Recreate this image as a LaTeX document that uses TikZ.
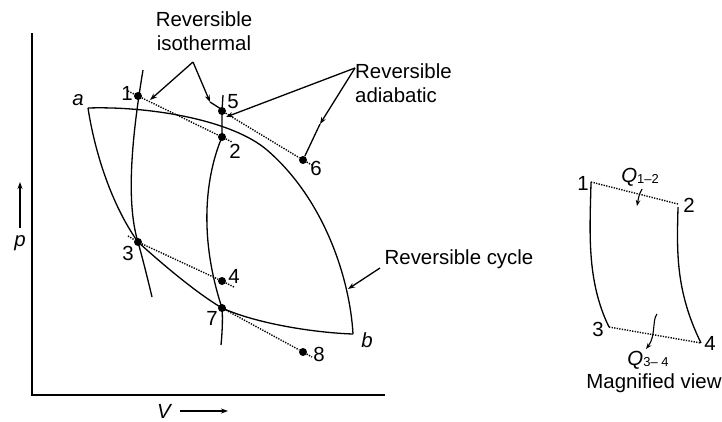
\documentclass[tikz,border=0pt]{standalone}
\usepackage{fontspec}
\setmainfont{Liberation Sans}
\usetikzlibrary{arrows.meta}
\begin{document}
\begin{tikzpicture}[x=1bp,y=-1bp,
  every node/.style={font=\fontsize{20.5}{24}\selectfont, inner sep=0pt},
  curve/.style={line width=1.3bp},
  axis/.style={line width=1.5bp},
  dotline/.style={line width=1.4bp, dash pattern=on 1.3bp off 1.3bp},
  dotpt/.style={circle, fill=black, minimum size=8bp, inner sep=0pt},
  lead/.style={line width=1.3bp, -{Stealth[length=7bp,width=5bp]}},
  plain/.style={line width=1.3bp}]
\useasboundingbox (0,0) rectangle (722,421);

% axes
\coordinate (O) at (32,395);
\coordinate (Ytop) at (32,33);
\coordinate (Xend) at (385,395);
\draw[axis] (Ytop) -- (O) -- (Xend);
\coordinate (pA) at (20,228); \coordinate (pB) at (20,182);
\draw[lead] (pA) -- (pB);
\node (plab) at (20,243) {\itshape p};
\coordinate (vA) at (180,411); \coordinate (vB) at (228,411);
\draw[lead] (vA) -- (vB);
\node (vlab) at (164,411) {\itshape V};

% points
\node[dotpt] (p1) at (138,96) {};
\node[dotpt] (p5) at (222,111) {};
\node[dotpt] (p2) at (222,137) {};
\node[dotpt] (p6) at (303,160) {};
\node[dotpt] (p3) at (138,242) {};
\node[dotpt] (p4) at (222,281) {};
\node[dotpt] (p7) at (222,308) {};
\node[dotpt] (p8) at (303,352) {};

% cycle
\coordinate (a) at (88,108);
\coordinate (b) at (353,334);
\coordinate (u1) at (267,150);
\draw[curve] (a) .. controls (150,106) and (232,120) .. (u1)
                 .. controls (325,200) and (350,280) .. (b);
\draw[curve] (a) .. controls (96,160) and (115,210) .. (p3.center)
                 .. controls (160,262) and (195,292) .. (p7.center)
                 .. controls (260,325) and (320,333) .. (b);
\node (alab) at (78,100) {\itshape a};
\node (blab) at (367,340) {\itshape b};

% isotherms
\coordinate (i1t) at (143,70);
\coordinate (i1b) at (152,297);
\draw[curve] (i1t) .. controls (133,130) and (125,200) .. (p3.center)
                   .. controls (143,260) and (148,280) .. (i1b);
\coordinate (i2t) at (223,95);
\coordinate (i2b) at (221,345);
\draw[curve] (i2t) -- (p5.center) -- (p2.center)
                   .. controls (206,175) and (198,235) .. (p7.center)
                   .. controls (223,320) and (222,335) .. (i2b);

% dotted lines
\coordinate (d1s) at (128,91); \coordinate (d1e) at (232,142);
\draw[dotline] (d1s) -- (p1) -- (p2) -- (d1e);
\coordinate (d2e) at (312,165);
\draw[dotline] (p5) -- (p6) -- (d2e);
\coordinate (d3s) at (128,236); \coordinate (d3e) at (234,287);
\draw[dotline] (d3s) -- (p3) -- (p4) -- (d3e);
\coordinate (d4e) at (312,357);
\draw[dotline] (p7) -- (p8) -- (d4e);

% point labels
\node (l1) at (127,93) {1};
\node (l5) at (233,102) {5};
\node (l2) at (235,151) {2};
\node (l6) at (316,168) {6};
\node (l3) at (128,253) {3};
\node (l4) at (234,276) {4};
\node (l7) at (212,318) {7};
\node (l8) at (319,354) {8};

% annotations
\node[align=center] (iso) at (204,31) {Reversible\\isothermal};
\coordinate (isoA) at (193,62);
\coordinate (isoT1) at (150,100);
\coordinate (isoT2) at (210,102);
\coordinate (isoT3) at (221,109);
\draw[lead] (isoA) -- (isoT1);
\draw[lead] (isoA) -- (isoT2);
\draw[plain] (isoT2) -- (isoT3);

\node[align=left, anchor=west] (adi) at (355,83) {Reversible\\adiabatic};
\coordinate (adiA) at (355,68);
\coordinate (adiT1) at (226,117);
\coordinate (adiM) at (320,124);
\draw[lead] (adiA) -- (adiT1);
\draw[lead] (adiA) -- (adiM);
\draw[plain] (adiM) -- (p6);

\node (cyc) at (459,259) {Reversible cycle};
\coordinate (cycA) at (380,268);
\coordinate (cycT) at (348,289);
\draw[lead] (cycA) -- (cycT);

% magnified view
\coordinate (m1) at (591,182);
\coordinate (m2) at (678,204);
\coordinate (m3) at (609,327);
\coordinate (m4) at (701,343);
\coordinate (m2b) at (678,207);
\draw[curve] (m1) .. controls (590,230) and (586,280) .. (m3);
\draw[curve] (m2b) .. controls (677,250) and (675,290) .. (m4);
\draw[dotline] (m1) -- (m2);
\draw[dotline] (m3) -- (m4);
\node (ml1) at (583,183) {1};
\node (ml2) at (689,205) {2};
\node (ml3) at (598,329) {3};
\node (ml4) at (710,343) {4};
\node (q12) at (640,177) {{\itshape Q}{\fontsize{13}{15}\selectfont\raisebox{-1.5bp}{1–2}}};
\coordinate (q12a) at (642,189); \coordinate (q12b) at (637,206);
\draw[line width=1.1bp, -{Stealth[length=6bp,width=4.5bp]}] (q12a) .. controls (639,195) .. (q12b);
\coordinate (q34a) at (657,314); \coordinate (q34b) at (646,349);
\draw[line width=1.1bp, -{Stealth[length=6bp,width=4.5bp]}] (q34a) .. controls (652,320) and (656,336) .. (q34b);
\node (q34) at (648,360) {{\itshape Q}{\fontsize{13}{15}\selectfont\raisebox{-1.5bp}{3– 4}}};
\node (mag) at (654,383) {Magnified view};
\end{tikzpicture}
\end{document}
